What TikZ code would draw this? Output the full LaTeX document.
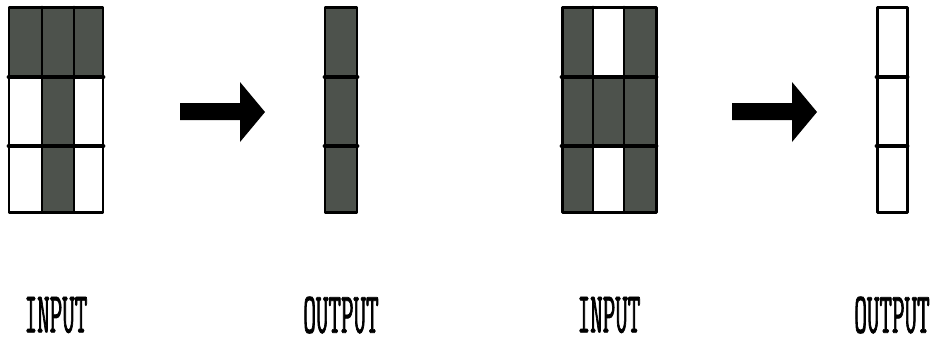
\documentclass[tikz,border=0pt]{standalone}
\usepackage{fontspec}
\usepackage{tkz-euclide}
\newfontfamily\labelfont[FakeStretch=0.42,FakeBold=1.2]{Latin Modern Mono}
\definecolor{CellClr}{RGB}{77,82,76}
\tikzset{lbl/.style={font=\labelfont\fontsize{33}{33}\selectfont,inner sep=0pt}}

\begin{document}
\begin{tikzpicture}[x=0.02cm,y=-0.02cm]
\useasboundingbox (0,0) rectangle (936,343);
\tkzSetUpLine[line width=1.7pt,color=black]

% first input grid
\tkzDefPoints{9/7/A,103/7/B,103/212/C,9/212/D}
\tkzDefPoints{9/77/E,103/77/F,9/146/G,103/146/H}
\tkzDefPoints{42/7/I,42/212/J,74/7/K,74/212/L}

\tkzFillPolygon[fill=CellClr](A,B,F,E)
\tkzFillPolygon[fill=CellClr](I,K,L,J)

\tkzDrawSegments[line width=1.6pt](I,J K,L)
\tkzDrawSegments[line width=2.8pt](E,F G,H)
\tkzDrawPolygon(A,B,C,D)

% first output bar
\tkzDefPoints{325/7/Q,357/7/R,357/212/S,325/212/T}
\tkzDefPoints{325/77/U,357/77/V,325/146/W,357/146/X}

\tkzFillPolygon[fill=CellClr](Q,R,S,T)
\tkzDrawSegments[line width=2.8pt](U,V W,X)
\tkzDrawPolygon(Q,R,S,T)

% second input grid
\tkzDefPoints{562/7/A2,656/7/B2,656/212/C2,562/212/D2}
\tkzDefPoints{562/77/E2,656/77/F2,562/146/G2,656/146/H2}
\tkzDefPoints{593/7/I2,593/212/J2,624/7/K2,624/212/L2}
\tkzDefPoints{593/77/M2,624/77/N2,624/146/O2,593/146/P2}

\tkzFillPolygon[fill=CellClr](A2,B2,C2,D2)
\tkzFillPolygon[fill=white](I2,K2,N2,M2)
\tkzFillPolygon[fill=white](P2,O2,L2,J2)

\tkzDrawSegments[line width=1.6pt](I2,J2 K2,L2)
\tkzDrawSegments[line width=2.8pt](E2,F2 G2,H2)
\tkzDrawPolygon(A2,B2,C2,D2)

% second output bar
\tkzDefPoints{877/7/Q2,907/7/R2,907/212/S2,877/212/T2}
\tkzDefPoints{877/77/U2,907/77/V2,877/146/W2,907/146/X2}

\tkzDrawSegments[line width=2.8pt](U2,V2 W2,X2)
\tkzDrawPolygon(Q2,R2,S2,T2)

% block arrows
\tkzDefPoints{180/103/a1,240/103/a2,240/82/a3,265/112/a4,240/142/a5,240/120/a6,180/120/a7}
\tkzFillPolygon[fill=black](a1,a2,a3,a4,a5,a6,a7)
\tkzDefPoints{732/103/b1,792/103/b2,792/82/b3,817/112/b4,792/142/b5,792/120/b6,732/120/b7}
\tkzFillPolygon[fill=black](b1,b2,b3,b4,b5,b6,b7)

\node[lbl] (in1) at (56,315) {INPUT};
\node[lbl] (out1) at (341,315) {OUTPUT};
\node[lbl] (in2) at (609,315) {INPUT};
\node[lbl] (out2) at (892,315) {OUTPUT};

\end{tikzpicture}
\end{document}
